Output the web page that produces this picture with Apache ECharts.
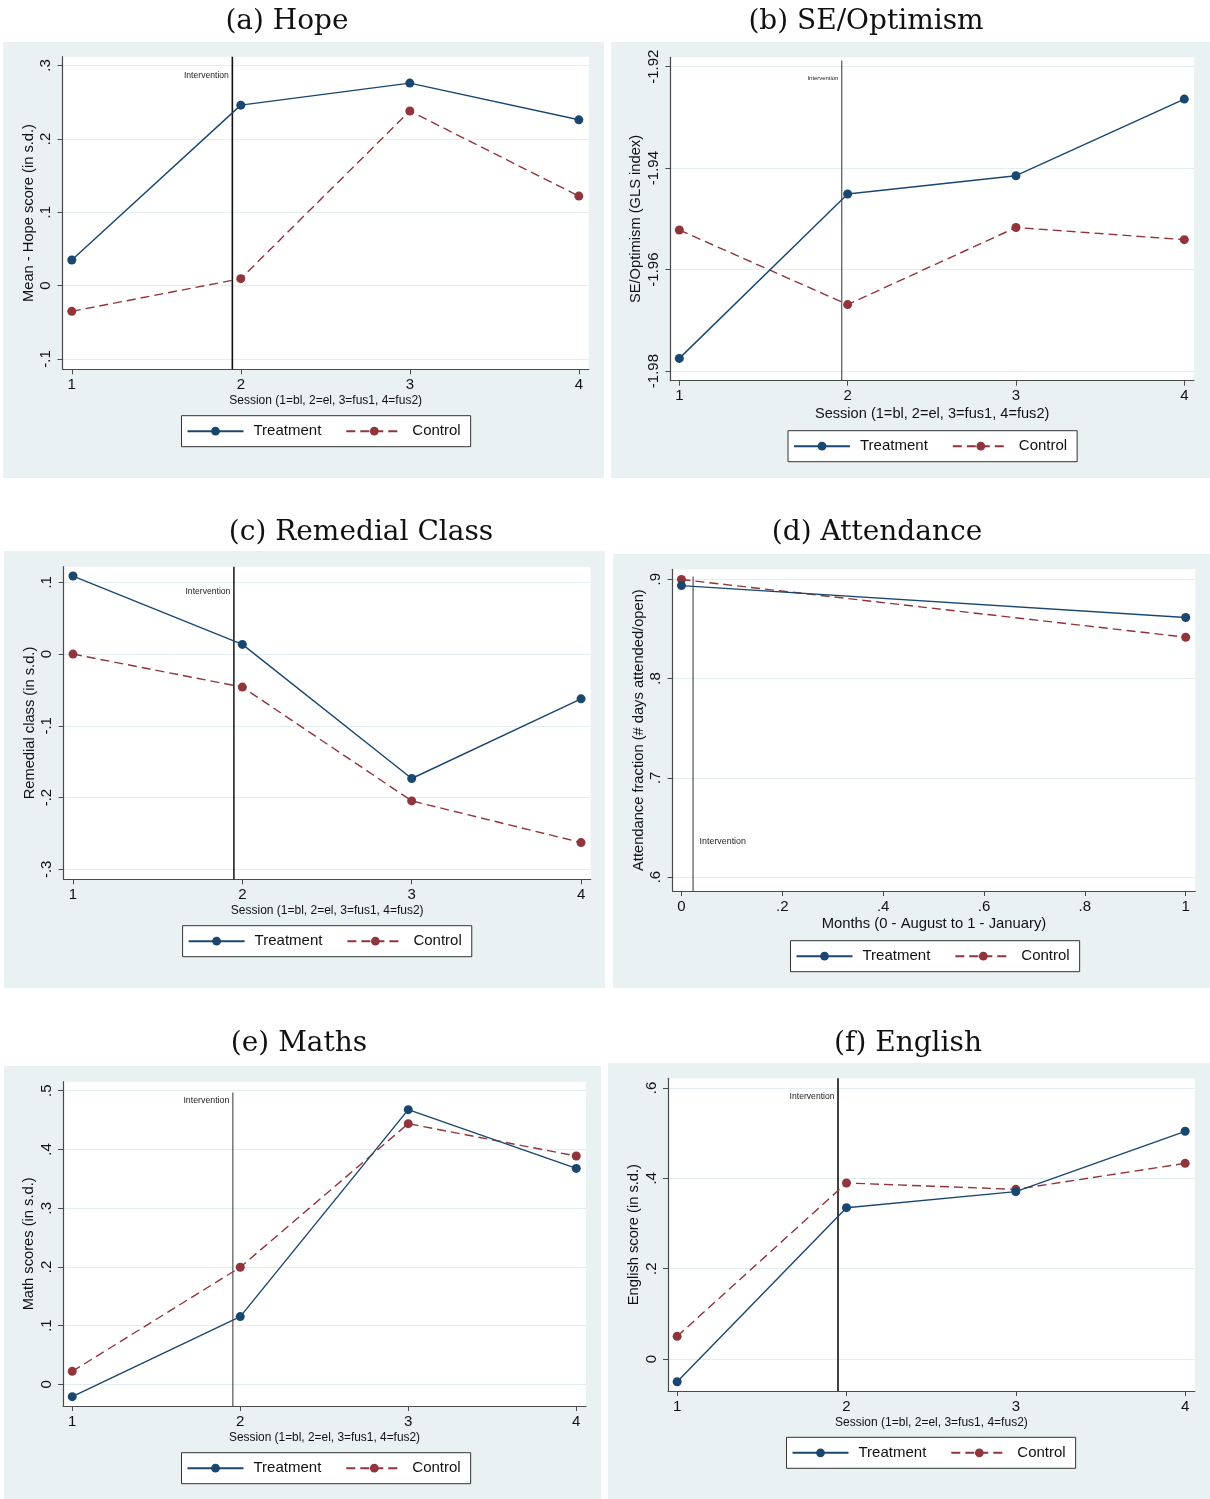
<!DOCTYPE html>
<html>
<head>
<meta charset="utf-8">
<script src="https://cdn.jsdelivr.net/npm/echarts@6/dist/echarts.min.js"></script>
<style>
html,body{margin:0;padding:0;background:#ffffff;}
#chart{width:1210px;height:1499px;}
</style>
</head>
<body>
<div id="chart"></div>
<script>
// ---------------- DATA ----------------
const sessions = [1, 2, 3, 4];
const sessionTicks = [1, 2, 3, 4];
const sessionTickLabels = ['1', '2', '3', '4'];

const hopeTreatment = [0.035, 0.246, 0.276, 0.226];
const hopeControl = [-0.035, 0.0095, 0.238, 0.122];
const hopeTicks = [-0.1, 0, 0.1, 0.2, 0.3];
const hopeTickLabels = ['-.1', '0', '.1', '.2', '.3'];

const seTreatment = [-1.9775, -1.9451, -1.9415, -1.9264];
const seControl = [-1.9522, -1.9669, -1.9517, -1.9541];
const seTicks = [-1.98, -1.96, -1.94, -1.92];
const seTickLabels = ['-1.98', '-1.96', '-1.94', '-1.92'];

const remedialTreatment = [0.1088, 0.0135, -0.1734, -0.0624];
const remedialControl = [0.0, -0.046, -0.2046, -0.2627];
const remedialTicks = [-0.3, -0.2, -0.1, 0, 0.1];
const remedialTickLabels = ['-.3', '-.2', '-.1', '0', '.1'];

const months = [0, 1];
const monthTicks = [0, 0.2, 0.4, 0.6, 0.8, 1];
const monthTickLabels = ['0', '.2', '.4', '.6', '.8', '1'];
const attendanceTreatment = [0.8936, 0.8614];
const attendanceControl = [0.8997, 0.8416];
const attendanceTicks = [0.6, 0.7, 0.8, 0.9];
const attendanceTickLabels = ['.6', '.7', '.8', '.9'];

const mathsTreatment = [-0.021, 0.1153, 0.4677, 0.3677];
const mathsControl = [0.0221, 0.1994, 0.4438, 0.3887];
const mathsTicks = [0, 0.1, 0.2, 0.3, 0.4, 0.5];
const mathsTickLabels = ['0', '.1', '.2', '.3', '.4', '.5'];

const englishTreatment = [-0.0502, 0.335, 0.3705, 0.5041];
const englishControl = [0.0502, 0.3897, 0.3756, 0.4332];
const englishTicks = [0, 0.2, 0.4, 0.6];
const englishTickLabels = ['0', '.2', '.4', '.6'];

// intervention position (x value) for each panel
const interventionX = [1.95, 1.965, 1.95, 0.023, 1.956, 1.95];
const seriesNames = ['Treatment', 'Control'];
const panelTitles = ['(a) Hope', '(b) SE/Optimism', '(c) Remedial Class', '(d) Attendance', '(e) Maths', '(f) English'];
const xTitles = ['Session (1=bl, 2=el, 3=fus1, 4=fus2)', 'Session (1=bl, 2=el, 3=fus1, 4=fus2)',
  'Session (1=bl, 2=el, 3=fus1, 4=fus2)', 'Months (0 - August to 1 - January)',
  'Session (1=bl, 2=el, 3=fus1, 4=fus2)', 'Session (1=bl, 2=el, 3=fus1, 4=fus2)'];
const yTitles = ['Mean - Hope score (in s.d.)', 'SE/Optimism (GLS index)', 'Remedial class (in s.d.)',
  'Attendance fraction (# days attended/open)', 'Math scores (in s.d.)', 'English score (in s.d.)'];

// ---------------- LAYOUT / STYLE ----------------
const SANS = '"Liberation Sans", Arial, Helvetica, sans-serif';
const SERIF = '"DejaVu Serif", "Liberation Serif", serif';
const BG = '#e9f1f3';
const GRIDLINE = '#e4edf0';
const AXIS = '#4a4a4a';
const C_T = '#1a476f';
const C_C = '#90353b';

const panels = [
  { x: sessions, t: hopeTreatment, c: hopeControl, xt: sessionTicks, xl: sessionTickLabels, yt: hopeTicks, yl: hopeTickLabels,
    xr: [0.945, 4.059], yr: [-0.114, 0.312], grid: [62.5, 56.7, 526.3, 312.6], bg: [3, 42, 601, 436],
    title: [287, 8], legend: [181.5, 415.7], xNameSize: 12, iTop: 0.312, iLab: 0.286, iLabPos: 'left', iSize: 8.6, iW: 1.6, iC: '#111' },
  { x: sessions, t: seTreatment, c: seControl, xt: sessionTicks, xl: sessionTickLabels, yt: seTicks, yl: seTickLabels,
    xr: [0.947, 4.057], yr: [-1.9819, -1.91816], grid: [670.4, 57.3, 523.5, 323.4], bg: [611, 42, 599, 436],
    title: [866, 8], legend: [788, 430.7], xNameSize: 14.6, iTop: -1.9188, iLab: -1.9223, iLabPos: 'left', iSize: 5.9, iW: 1.1, iC: '#444' },
  { x: sessions, t: remedialTreatment, c: remedialControl, xt: sessionTicks, xl: sessionTickLabels, yt: remedialTicks, yl: remedialTickLabels,
    xr: [0.945, 4.057], yr: [-0.3139, 0.1218], grid: [63.7, 566.7, 527, 312.6], bg: [4, 551, 601, 437],
    title: [361, 519], legend: [182.6, 925.7], xNameSize: 12, iTop: 0.1218, iLab: 0.0875, iLabPos: 'left', iSize: 8.6, iW: 1.6, iC: '#222' },
  { x: months, t: attendanceTreatment, c: attendanceControl, xt: monthTicks, xl: monthTickLabels, yt: attendanceTicks, yl: attendanceTickLabels,
    xr: [-0.0176, 1.019], yr: [0.586, 0.910], grid: [672.6, 569.3, 522.7, 321.7], bg: [613, 554, 597, 434],
    title: [877, 519], legend: [790.5, 940.7], xNameSize: 14.8, iTop: 0.9027, iLab: 0.636, iLabPos: 'right', iSize: 8.9, iW: 1.1, iC: '#444' },
  { x: sessions, t: mathsTreatment, c: mathsControl, xt: sessionTicks, xl: sessionTickLabels, yt: mathsTicks, yl: mathsTickLabels,
    xr: [0.945, 4.058], yr: [-0.0369, 0.5153], grid: [63, 1081.7, 523, 324.3], bg: [4, 1066, 597, 433],
    title: [299, 1030], legend: [181.5, 1452.7], xNameSize: 11.9, iTop: 0.497, iLab: 0.483, iLabPos: 'left', iSize: 8.8, iW: 1.1, iC: '#444' },
  { x: sessions, t: englishTreatment, c: englishControl, xt: sessionTicks, xl: sessionTickLabels, yt: englishTicks, yl: englishTickLabels,
    xr: [0.946, 4.057], yr: [-0.0708, 0.6214], grid: [668, 1078.3, 526.8, 312.7], bg: [608, 1063, 602, 436],
    title: [908, 1030], legend: [786.5, 1437.3], xNameSize: 12, iTop: 0.6214, iLab: 0.580, iLabPos: 'left', iSize: 8.6, iW: 1.6, iC: '#111' }
];

function labeler(ticks, labels) {
  return function (v) {
    const i = ticks.findIndex(t => Math.abs(t - v) < 1e-7);
    return i >= 0 ? labels[i] : '';
  };
}

const option = {
  animation: false,
  backgroundColor: '#ffffff',
  graphic: [],
  title: [],
  legend: [],
  grid: [],
  xAxis: [],
  yAxis: [],
  series: []
};

panels.forEach((p, k) => {
  option.graphic.push({
    type: 'rect', z: -100, silent: true,
    shape: { x: p.bg[0], y: p.bg[1], width: p.bg[2], height: p.bg[3] },
    style: { fill: BG }
  });
  option.title.push({
    text: panelTitles[k], left: p.title[0], top: p.title[1], textAlign: 'center', padding: 0,
    textStyle: { fontFamily: SERIF, fontSize: 28, fontWeight: 'normal', color: '#111' }
  });
  option.legend.push({
    data: seriesNames, left: p.legend[0], top: p.legend[1], orient: 'horizontal',
    padding: [8, 10, 8, 5], itemWidth: 56, itemHeight: 11, itemGap: 24, itemTextGap: 15,
    borderColor: '#333', borderWidth: 1, backgroundColor: '#fff', borderRadius: 0,
    selectedMode: false,
    textStyle: { fontFamily: SANS, fontSize: 15, color: '#111', padding: [0, 0, 0, 5] }
  });
  option.grid.push({
    left: p.grid[0], top: p.grid[1], width: p.grid[2], height: p.grid[3],
    containLabel: false, outerBoundsMode: 'none',
    show: true, backgroundColor: '#ffffff', borderWidth: 0
  });
  option.xAxis.push({
    type: 'value', gridIndex: k, min: p.xr[0], max: p.xr[1],
    name: xTitles[k], nameLocation: 'middle', nameGap: 25.5,
    nameTextStyle: { fontFamily: SANS, fontSize: p.xNameSize, color: '#111' },
    axisLine: { show: true, onZero: false, lineStyle: { color: AXIS, width: 1.2 } },
    axisTick: { show: true, inside: false, length: 5, customValues: p.xt, lineStyle: { color: AXIS, width: 1 } },
    axisLabel: { show: true, margin: 8, customValues: p.xt, formatter: labeler(p.xt, p.xl),
      fontFamily: SANS, fontSize: 15, color: '#111' },
    splitLine: { show: false }
  });
  option.yAxis.push({
    type: 'value', gridIndex: k, min: p.yr[0], max: p.yr[1],
    name: yTitles[k], nameLocation: 'middle', nameGap: 26.5, nameRotate: 90,
    nameTextStyle: { fontFamily: SANS, fontSize: 14.7, color: '#111' },
    axisLine: { show: true, onZero: false, lineStyle: { color: AXIS, width: 1.2 } },
    axisTick: { show: true, inside: false, length: 5, customValues: p.yt, lineStyle: { color: AXIS, width: 1 } },
    axisLabel: { show: true, margin: 9, rotate: 90, customValues: p.yt, formatter: labeler(p.yt, p.yl),
      fontFamily: SANS, fontSize: 15, color: '#111' },
    splitLine: { show: true, lineStyle: { color: GRIDLINE, width: 1.2 } }
  });
  // intervention line + label
  option.series.push({
    name: 'Intervention', type: 'line', xAxisIndex: k, yAxisIndex: k, silent: true,
    symbol: 'none', z: 1,
    data: [[interventionX[k], p.yr[0]], [interventionX[k], p.iTop]],
    lineStyle: { color: p.iC, width: p.iW },
    markPoint: {
      symbol: 'circle', symbolSize: 1, silent: true,
      itemStyle: { color: 'rgba(0,0,0,0)' },
      label: { show: true, position: p.iLabPos, distance: p.iLabPos === 'left' ? 3 : 6,
        formatter: 'Intervention', fontFamily: SANS, fontSize: p.iSize, color: '#222' },
      data: [{ coord: [interventionX[k], p.iLab] }]
    }
  });
  option.series.push({
    name: 'Treatment', type: 'line', xAxisIndex: k, yAxisIndex: k, z: 3,
    symbol: 'circle', symbolSize: 9, showSymbol: true,
    data: p.x.map((xv, i) => [xv, p.t[i]]),
    lineStyle: { color: C_T, width: 1.4, type: 'solid' },
    itemStyle: { color: C_T }
  });
  option.series.push({
    name: 'Control', type: 'line', xAxisIndex: k, yAxisIndex: k, z: 2,
    symbol: 'circle', symbolSize: 9, showSymbol: true,
    data: p.x.map((xv, i) => [xv, p.c[i]]),
    lineStyle: { color: C_C, width: 1.4, type: [9, 5] },
    itemStyle: { color: C_C }
  });
});

const chart = echarts.init(document.getElementById('chart'), null, { renderer: 'canvas' });
chart.setOption(option);
</script>
</body>
</html>
